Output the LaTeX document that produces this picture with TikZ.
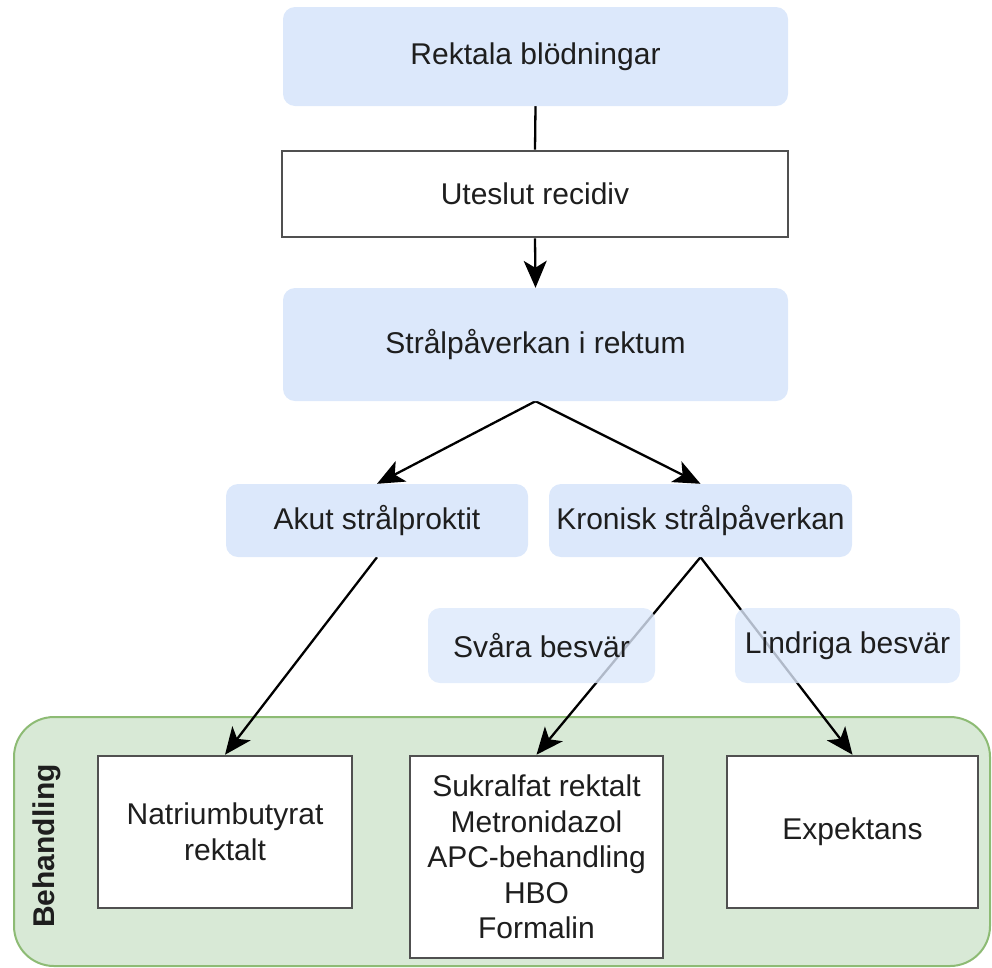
\documentclass[tikz,border=0pt]{standalone}
\usepackage{fontspec}
\setmainfont{Liberation Sans}
\usetikzlibrary{arrows.meta}
\definecolor{bluefill}{HTML}{DCE8FB}
\definecolor{greenfill}{HTML}{D8E9D6}
\definecolor{greenline}{HTML}{8DBB74}
\definecolor{boxline}{HTML}{505050}
\definecolor{ink}{HTML}{1E1E1E}
\pgfdeclarelayer{bg}
\pgfdeclarelayer{edges}
\pgfsetlayers{bg,edges,main}
\begin{document}
\begin{tikzpicture}[x=1pt,y=-1pt,
  every node/.style={font=\fontsize{30}{35.5}\selectfont, text=ink, inner sep=0pt, align=center},
  bluebox/.style={fill=bluefill, rounded corners=12pt},
  tagbox/.style={fill=bluefill, fill opacity=0.8, text opacity=1, rounded corners=12pt},
  whitebox/.style={fill=white, draw=boxline, line width=2.6pt},
  link/.style={draw=black, line width=2.3pt},
  arrowlink/.style={link, -{Stealth[length=27pt,width=23pt,inset=7pt]}}
]
\useasboundingbox (0,0) rectangle (992,967);

% upper chain
\node[bluebox, minimum width=505pt, minimum height=99pt] (A) at (535.5,56.5) {Rektala blödningar};
\node[whitebox, minimum width=506pt, minimum height=86pt] (B) at (535,194) {Uteslut recidiv};
\node[bluebox, minimum width=505pt, minimum height=113pt] (C) at (535.5,344.5) {Strålpåverkan i rektum};

% branches
\node[bluebox, minimum width=302pt, minimum height=73pt] (D) at (377,520.5) {Akut strålproktit};
\node[bluebox, minimum width=303pt, minimum height=73pt] (E) at (700.5,520.5) {Kronisk strålpåverkan};
\node[tagbox, minimum width=227pt, minimum height=75pt] (F) at (541.5,645.5) {Svåra besvär};
\node[tagbox, minimum width=225pt, minimum height=75pt] (G) at (847.5,645.5) {Lindriga besvär};

% treatment group
\begin{pgfonlayer}{bg}
  \draw[fill=greenfill, draw=greenline, line width=2pt, rounded corners=40pt] (14,717) rectangle (990,966);
\end{pgfonlayer}
\node[rotate=90, font=\fontsize{30}{35.5}\selectfont\bfseries] (H) at (47,846) {Behandling};
\node[whitebox, minimum width=254pt, minimum height=152pt] (I) at (225,832) {Natriumbutyrat\\rektalt};
\node[whitebox, minimum width=253pt, minimum height=202pt] (J) at (536.5,857) {Sukralfat rektalt\\Metronidazol\\APC-behandling\\HBO\\Formalin};
\node[whitebox, minimum width=251pt, minimum height=152pt] (K) at (852.5,832) {Expektans};

% connectors
\begin{pgfonlayer}{edges}
  \draw[link] (A.south) -- (B.north);
  \draw[arrowlink] (B.south) -- (C.north);
  \draw[arrowlink] (C.south) -- (D.north);
  \draw[arrowlink] (C.south) -- (E.north);
  \draw[arrowlink] (D.south) -- (I.north);
  \draw[arrowlink] (E.south) -- (J.north);
  \draw[arrowlink] (E.south) -- (K.north);
\end{pgfonlayer}
\end{tikzpicture}
\end{document}
